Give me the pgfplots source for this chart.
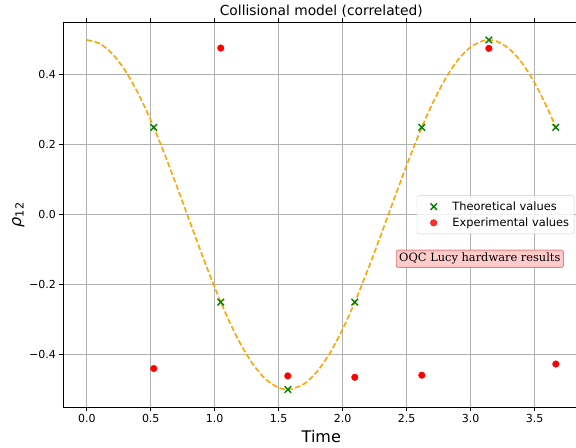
\documentclass[border=0pt]{standalone}
\usepackage{fontspec}
\setmainfont{DejaVu Sans}
\newfontfamily\serifbox{DejaVu Serif}
\usepackage{pgfplots}
\pgfplotsset{compat=1.18}
\definecolor{mplgreen}{HTML}{008000}
\definecolor{mplorange}{HTML}{FFA500}
\definecolor{boxfill}{HTML}{FFCCCC}
\definecolor{boxedge}{HTML}{F08080}
\definecolor{gridgray}{HTML}{B0B0B0}
\pgfplotsset{widemarklegend/.style={legend image code/.code={\path (0pt,0pt) (29pt,0pt); \draw[##1] plot coordinates {(13pt,0pt)};}}}
\begin{document}
\begin{tikzpicture}
\begin{axis}[
  scale only axis,
  width=516pt, height=384.5pt,
  xmin=-0.1833, xmax=3.8485,
  ymin=-0.55, ymax=0.55,
  xtick={0,0.5,1,1.5,2,2.5,3,3.5},
  xticklabels={0.0,0.5,1.0,1.5,2.0,2.5,3.0,3.5},
  ytick={-0.4,-0.2,0,0.2,0.4},
  yticklabels={−0.4,−0.2,0.0,0.2,0.4},
  tick align=outside,
  major tick length=4pt,
  tick style={black, line width=0.9pt},
  ticklabel style={font=\fontsize{11}{13}\selectfont},
  grid=major,
  major grid style={gridgray, line width=0.9pt},
  axis line style={line width=0.9pt},
  title={Collisional model (correlated)},
  title style={font=\fontsize{13.8}{16}\selectfont, at={(axis description cs:0.5,1)}, anchor=center, yshift=5pt},
  xlabel={Time},
  xlabel style={font=\fontsize{16}{18}\selectfont, at={(axis description cs:0.5,0)}, anchor=center, yshift=-30pt},
  ylabel={\textit{ρ}\textsubscript{12}},
  ylabel style={font=\fontsize{16}{18}\selectfont, at={(axis description cs:0,0.5)}, anchor=center, yshift=45pt},
  legend style={at={(axis description cs:1,0.5)}, anchor=east, xshift=-5pt,
    font=\fontsize{11.4}{14}\selectfont, draw=gridgray!60, rounded corners=2pt,
    fill=white, fill opacity=0.8, text opacity=1, row sep=2pt, inner xsep=3pt, inner ysep=4pt},
  legend cell align=left,
]
\addplot[mplorange, dashed, line width=1.6pt, dash pattern=on 5.5pt off 2.5pt, smooth, forget plot] coordinates {
(0,0.5) (0.1,0.49003) (0.2,0.46053) (0.3,0.41267) (0.4,0.34835) (0.5,0.27015)
(0.6,0.18118) (0.7,0.08498) (0.8,-0.01460) (0.9,-0.11360) (1.0,-0.20807)
(1.1,-0.29425) (1.2,-0.36870) (1.3,-0.42844) (1.4,-0.47111) (1.5,-0.49500)
(1.5708,-0.5) (1.6,-0.49915) (1.7,-0.48340) (1.8,-0.44838) (1.9,-0.39548)
(2.0,-0.32682) (2.1,-0.24513) (2.2,-0.15367) (2.3,-0.05608) (2.4,0.04375)
(2.5,0.14183) (2.6,0.23426) (2.7,0.31735) (2.8,0.38778) (2.9,0.44276)
(3.0,0.48009) (3.1,0.49827) (3.1416,0.5) (3.2,0.49659) (3.3,0.47512)
(3.4,0.43470) (3.5,0.37695) (3.6,0.30418) (3.665,0.25)
};
\addplot[only marks, mark=x, mark size=4.6pt, mplgreen, line width=1.4pt, widemarklegend] coordinates {
(0.5236,0.25) (1.0472,-0.25) (1.5708,-0.5) (2.0944,-0.25) (2.6180,0.25) (3.1416,0.5) (3.6652,0.25)
};
\addlegendentry{Theoretical values}
\addplot[only marks, mark=*, mark size=3.3pt, red, draw=red, widemarklegend] coordinates {
(0.5236,-0.440) (1.0472,0.477) (1.5708,-0.461) (2.0944,-0.465) (2.6180,-0.459) (3.1416,0.476) (3.6652,-0.427)
};
\addlegendentry{Experimental values}
\node[font=\serifbox\fontsize{11.4}{13}\selectfont, fill=boxfill, draw=boxedge, line width=0.9pt, rounded corners=2pt, inner sep=3pt] at (axis cs:3.071,-0.126) {OQC Lucy hardware results};
\end{axis}
\pgfresetboundingbox
\path[use as bounding box] ([shift={(-63.3pt,-40.2pt)}]current axis.south west) rectangle ([shift={(512.7pt,407pt)}]current axis.south west);
\end{tikzpicture}
\end{document}
